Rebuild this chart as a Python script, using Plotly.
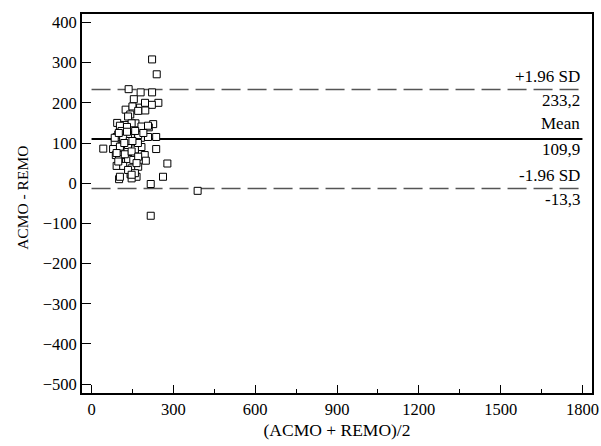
import plotly.graph_objects as go

# Bland-Altman data: mean of the two methods (x) and difference (y)
mean_vals = [222, 239, 136, 180, 222, 155, 245, 221, 178, 197, 125, 150, 142, 94, 122,
             161, 226, 210, 183, 92, 116, 144, 181, 207, 237, 43, 85, 116, 79, 132,
             183, 237, 89, 110, 159, 195, 101, 134, 153, 199, 278, 92, 116, 147, 171,
             143, 165, 147, 101, 262, 217, 389, 217,
             196, 171, 134, 147, 104, 183, 207, 98, 134, 171, 85, 116, 104, 134, 159,
             92, 122, 147, 171, 98, 165, 134, 159, 104, 147,
             110, 130, 160, 140, 170, 120, 150, 100, 190, 130]
diff_vals = [308, 271, 234, 226, 226, 209, 200, 195, 188, 181, 183, 191, 171, 150, 145,
             149, 147, 139, 131, 115, 118, 118, 113, 115, 115, 86, 98, 95, 85, 85,
             90, 85, 70, 70, 75, 70, 60, 60, 58, 56, 49, 43, 43, 37, 41,
             22, 16, 12, 10, 16, -2, -19, -81,
             200, 180, 166, 149, 143, 141, 143, 121, 121, 120, 113, 112, 91, 95, 84,
             75, 72, 79, 66, 54, 50, 33, 25, 16, 21,
             130, 140, 130, 105, 100, 100, 105, 125, 125, 128]

mean_diff = 109.9
upper_loa = 233.2
lower_loa = -13.3
line_labels_above = ["+1.96 SD", "Mean", "-1.96 SD"]
line_labels_below = ["233,2", "109,9", "-13,3"]
x_ticks = [0, 300, 600, 900, 1200, 1500, 1800]
y_ticks = [-500, -400, -300, -200, -100, 0, 100, 200, 300, 400]

FONT = "Liberation Serif"

fig = go.Figure()

# limit lines
for yv, dash, col, w in [(upper_loa, "19px,7px", "#555555", 1.5),
                         (lower_loa, "19px,7px", "#555555", 1.5),
                         (mean_diff, "solid", "black", 2)]:
    fig.add_trace(go.Scatter(x=[0, 1800], y=[yv, yv], mode="lines",
                             line=dict(color=col, width=w, dash=dash),
                             hoverinfo="skip", showlegend=False))

fig.add_trace(go.Scatter(
    x=mean_vals, y=diff_vals, mode="markers",
    marker=dict(symbol="square", size=7, color="white",
                line=dict(color="black", width=1)),
    showlegend=False))

above_shift = [1, 4, 2]
below_shift = [0, 1, 1]
for i, (yv, above, below) in enumerate(zip([upper_loa, mean_diff, lower_loa],
                                           line_labels_above, line_labels_below)):
    fig.add_annotation(x=1800, y=yv, text=above, showarrow=False,
                       xanchor="right", yanchor="bottom", yshift=above_shift[i],
                       font=dict(family=FONT, size=17, color="black"))
    fig.add_annotation(x=1800, y=yv, text=below, showarrow=False,
                       xanchor="right", yanchor="top", yshift=below_shift[i],
                       font=dict(family=FONT, size=17, color="black"))

fig.add_annotation(xref="paper", yref="paper", x=-0.118, y=0.5145,
                   text="ACMO - REMO", textangle=-90, showarrow=False,
                   xanchor="center", yanchor="middle",
                   font=dict(family=FONT, size=15.5, color="black"))

fig.update_layout(
    width=601, height=446,
    margin=dict(l=82, r=9, t=14, b=53),
    paper_bgcolor="white", plot_bgcolor="white",
    font=dict(family=FONT, size=16, color="black"),
    xaxis=dict(range=[-35, 1835], tickmode="array", tickvals=x_ticks,
               automargin=False, tickfont=dict(family=FONT, size=16.5),
               ticks="inside", ticklen=8, tickwidth=1, tickcolor="black",
               minor=dict(dtick=150, tick0=0, ticks="inside", ticklen=4,
                          tickcolor="black", tickwidth=1),
               showline=True, linecolor="black", linewidth=2, mirror=True,
               showgrid=False, zeroline=False,
               title=dict(text="(ACMO + REMO)/2", standoff=6,
                          font=dict(family=FONT, size=17.5))),
    yaxis=dict(range=[-522, 421], tickmode="array", tickvals=y_ticks,
               automargin=False, tickfont=dict(family=FONT, size=16.5),
               ticks="inside", ticklen=9, tickwidth=1, tickcolor="black",
               showline=True, linecolor="black", linewidth=2, mirror=True,
               showgrid=False, zeroline=False),
)

fig.write_html("out.html",
               config={"displayModeBar": False},
               post_script="document.body.style.margin='0';document.body.style.overflow='hidden';")
